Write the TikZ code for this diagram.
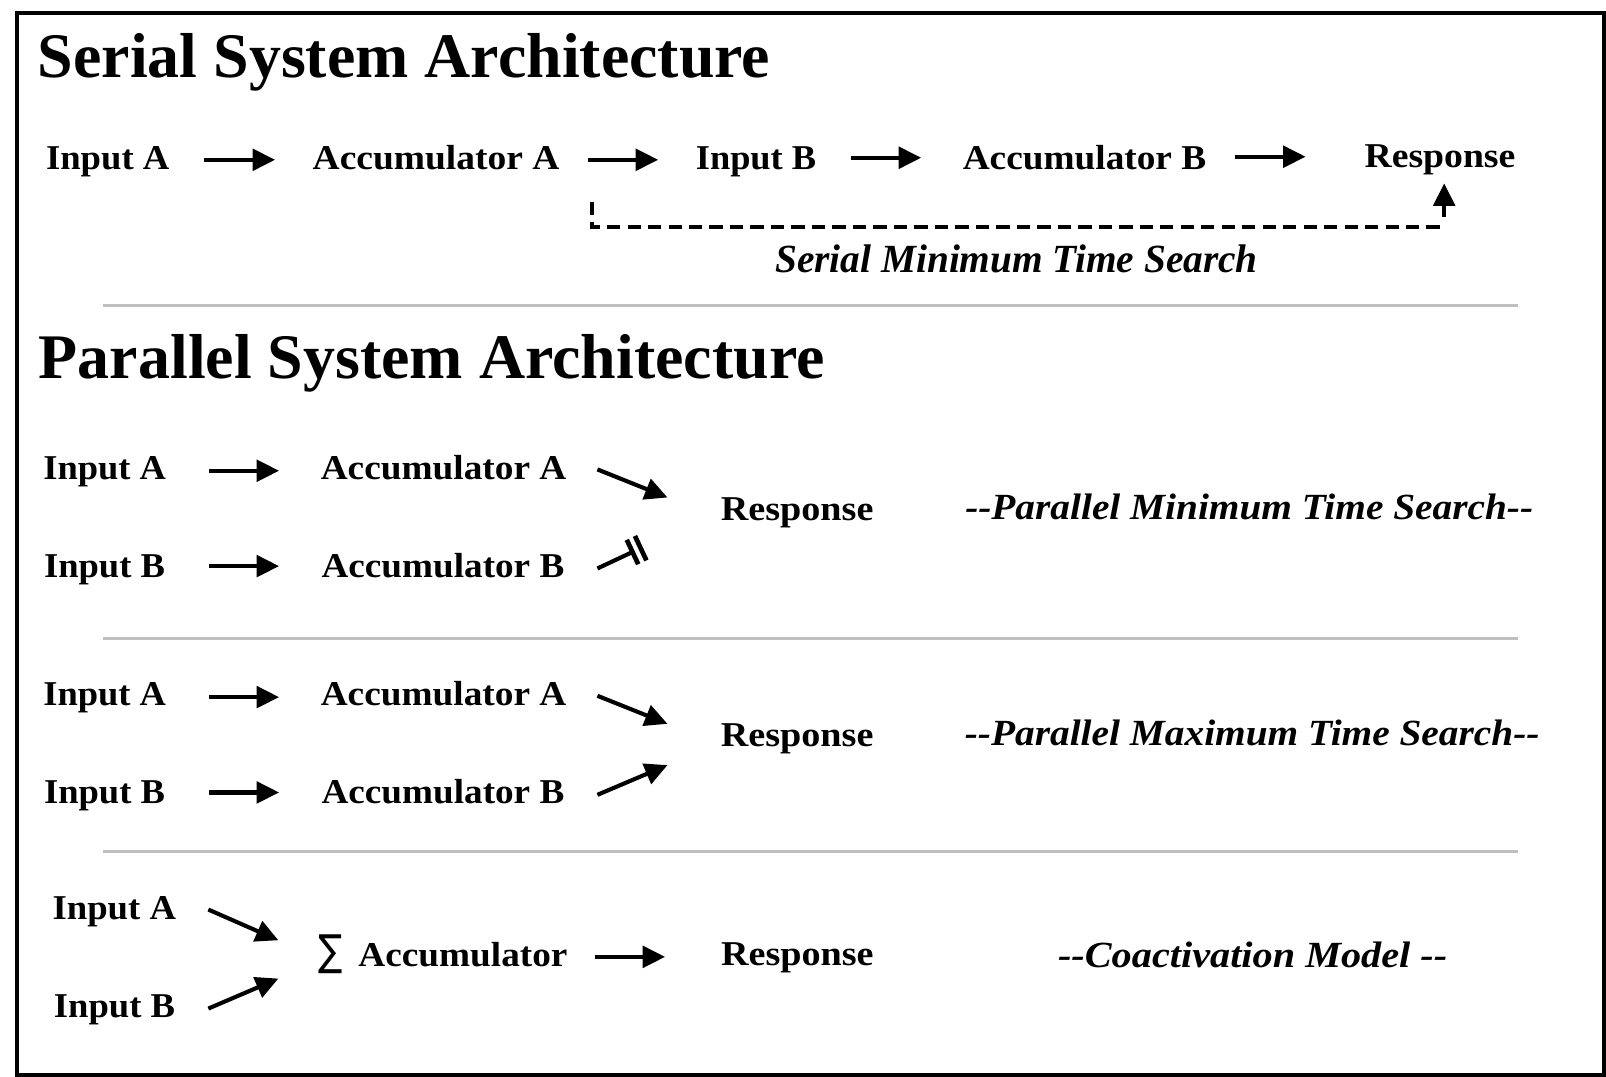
\documentclass[tikz,border=0pt]{standalone}
\usepackage{fontspec}
\setmainfont{Liberation Serif}
\newfontfamily\symfont{DejaVu Sans}
\usetikzlibrary{arrows.meta,calc}
\newcommand\fitw[2]{\resizebox{#1}{\height}{#2}}
\definecolor{sepgray}{RGB}{192,192,192}
\begin{document}
\begin{tikzpicture}[x=0.5pt,y=-0.5pt,
  lbl/.style={anchor=base west,inner sep=0pt,outer sep=0pt,font=\bfseries\fontsize{17}{20}\selectfont},
  ttl/.style={anchor=base west,inner sep=0pt,outer sep=0pt,font=\bfseries\fontsize{31}{36}\selectfont},
  itl/.style={anchor=base west,inner sep=0pt,outer sep=0pt,font=\bfseries\itshape\fontsize{18}{22}\selectfont},
  arr/.style={line width=2pt,-{Triangle[length=11pt,width=10.5pt]}},
  inhline/.style={line width=2pt},
  inhbar/.style={line width=2.3pt},
  sdash/.style={line width=2pt,dash pattern=on 6.5pt off 3.5pt},
  sepline/.style={draw=sepgray,line width=1.4pt}]
\useasboundingbox (0,0) rectangle (1568,1051.5);
\draw[line width=2pt] (16.5,12.5) rectangle (1566,1049.3);

% titles
\node[ttl] (t1) at (37,76) {\fitw{357.5pt}{Serial System Architecture}};
\node[ttl] (t2) at (38,370) {\fitw{383.5pt}{Parallel System Architecture}};

% ---- serial row
\node[lbl] (sInA) at (45,165) {\fitw{60.2pt}{Input A}};
\node[lbl] (sAccA) at (305.3,165) {\fitw{120.45pt}{Accumulator A}};
\node[lbl] (sInB) at (679.4,165) {\fitw{58.75pt}{Input B}};
\node[lbl] (sAccB) at (940,165) {\fitw{118.85pt}{Accumulator B}};
\node[lbl] (sResp) at (1332.3,164) {\fitw{73.6pt}{Response}};
\coordinate (s1a) at (199.2,156); \coordinate (s1b) at (268.6,156);
\coordinate (s2a) at (574,156);   \coordinate (s2b) at (642.6,156);
\coordinate (s3a) at (830.7,154); \coordinate (s3b) at (899.4,154);
\coordinate (s4a) at (1206,153);  \coordinate (s4b) at (1274.7,153);
\draw[arr] (s1a) -- (s1b);
\draw[arr] (s2a) -- (s2b);
\draw[arr] (s3a) -- (s3b);
\draw[arr] (s4a) -- (s4b);
\coordinate (dstart) at (577.7,197);
\coordinate (dline) at (0,222);
\coordinate (dup) at (1410,212);
\coordinate (dtip) at (1410,179);
\draw[sdash] (dstart) -- (dstart |- dline) -- (dup |- dline);
\draw[arr] (dup) -- (dtip);
\node[itl,font=\bfseries\itshape\fontsize{19.5}{23}\selectfont] (sLbl) at (757,266) {\fitw{235.5pt}{Serial Minimum Time Search}};

\coordinate (sep1a) at (101,298); \coordinate (sep1b) at (1482,298);
\draw[sepline] (sep1a) -- (sep1b);

% ---- parallel minimum
\node[lbl] (p1InA) at (42.3,468) {\fitw{59.9pt}{Input A}};
\node[lbl] (p1InB) at (43,563.5) {\fitw{59.05pt}{Input B}};
\node[lbl] (p1AccA) at (313.2,468) {\fitw{119.9pt}{Accumulator A}};
\node[lbl] (p1AccB) at (314,563.5) {\fitw{118.5pt}{Accumulator B}};
\node[lbl] (p1Resp) at (703.8,507.8) {\fitw{74.5pt}{Response}};
\node[itl] (p1Lbl) at (942.4,507) {\fitw{277.2pt}{-{}-Parallel Minimum Time Search-{}-}};
\coordinate (p1a1) at (204,459.6); \coordinate (p1a2) at (272.5,459.6);
\coordinate (p1b1) at (204,552.7); \coordinate (p1b2) at (272.5,552.7);
\coordinate (p1c1) at (583.3,458.3); \coordinate (p1c2) at (651.7,485.7);
\coordinate (p1d1) at (583.3,555); \coordinate (p1d2) at (625.5,535.2);
\draw[arr] (p1a1) -- (p1a2);
\draw[arr] (p1b1) -- (p1b2);
\draw[arr] (p1c1) -- (p1c2);
% inhibitory connection (line ending in a double bar)
\coordinate (ib1) at ($(p1d2)!4.4pt!(p1d1)$);
\draw[inhline] (p1d1) -- (ib1);
\draw[inhbar] ($(ib1)!6.6pt!90:(p1d1)$) -- ($(ib1)!6.6pt!-90:(p1d1)$);
\draw[inhbar] ($(p1d2)!6.6pt!90:(p1d1)$) -- ($(p1d2)!6.6pt!-90:(p1d1)$);

\coordinate (sep2a) at (101,623); \coordinate (sep2b) at (1482,623);
\draw[sepline] (sep2a) -- (sep2b);

% ---- parallel maximum
\node[lbl] (p2InA) at (42.3,689) {\fitw{59.9pt}{Input A}};
\node[lbl] (p2InB) at (43,784.5) {\fitw{59.05pt}{Input B}};
\node[lbl] (p2AccA) at (313.2,689) {\fitw{119.9pt}{Accumulator A}};
\node[lbl] (p2AccB) at (314,784.5) {\fitw{118.5pt}{Accumulator B}};
\node[lbl] (p2Resp) at (703.8,728.8) {\fitw{74.5pt}{Response}};
\node[itl] (p2Lbl) at (942,728) {\fitw{280.5pt}{-{}-Parallel Maximum Time Search-{}-}};
\coordinate (p2a1) at (204,680.6); \coordinate (p2a2) at (272.5,680.6);
\coordinate (p2b1) at (204,773.7); \coordinate (p2b2) at (272.5,773.7);
\coordinate (p2c1) at (583.3,679.3); \coordinate (p2c2) at (651.7,706.7);
\coordinate (p2d1) at (583.3,776); \coordinate (p2d2) at (651.7,747);
\draw[arr] (p2a1) -- (p2a2);
\draw[arr] (p2b1) -- (p2b2);
\draw[arr] (p2c1) -- (p2c2);
\draw[arr] (p2d1) -- (p2d2);

\coordinate (sep3a) at (101,831); \coordinate (sep3b) at (1482,831);
\draw[sepline] (sep3a) -- (sep3b);

% ---- coactivation
\node[lbl] (cInA) at (51.4,897.8) {\fitw{60.25pt}{Input A}};
\node[lbl] (cInB) at (52.7,993.5) {\fitw{59.1pt}{Input B}};
\node[anchor=north west,inner sep=0pt,outer sep=0pt,font=\symfont] (cSum) at (310.9,913) {\resizebox*{11.85pt}{19pt}{∑}};
\node[lbl] (cAcc) at (350,943.4) {\fitw{102pt}{Accumulator}};
\node[lbl] (cResp) at (704,943) {\fitw{74.5pt}{Response}};
\node[itl] (cLbl) at (1033,945) {\fitw{190pt}{-{}-Coactivation Model -{}-}};
\coordinate (ca1) at (203.4,888); \coordinate (ca2) at (271.8,918);
\coordinate (cb1) at (203.4,984.7); \coordinate (cb2) at (271.8,955.4);
\coordinate (cc1) at (581,934.2); \coordinate (cc2) at (649.4,934.2);
\draw[arr] (ca1) -- (ca2);
\draw[arr] (cb1) -- (cb2);
\draw[arr] (cc1) -- (cc2);
\end{tikzpicture}
\end{document}
